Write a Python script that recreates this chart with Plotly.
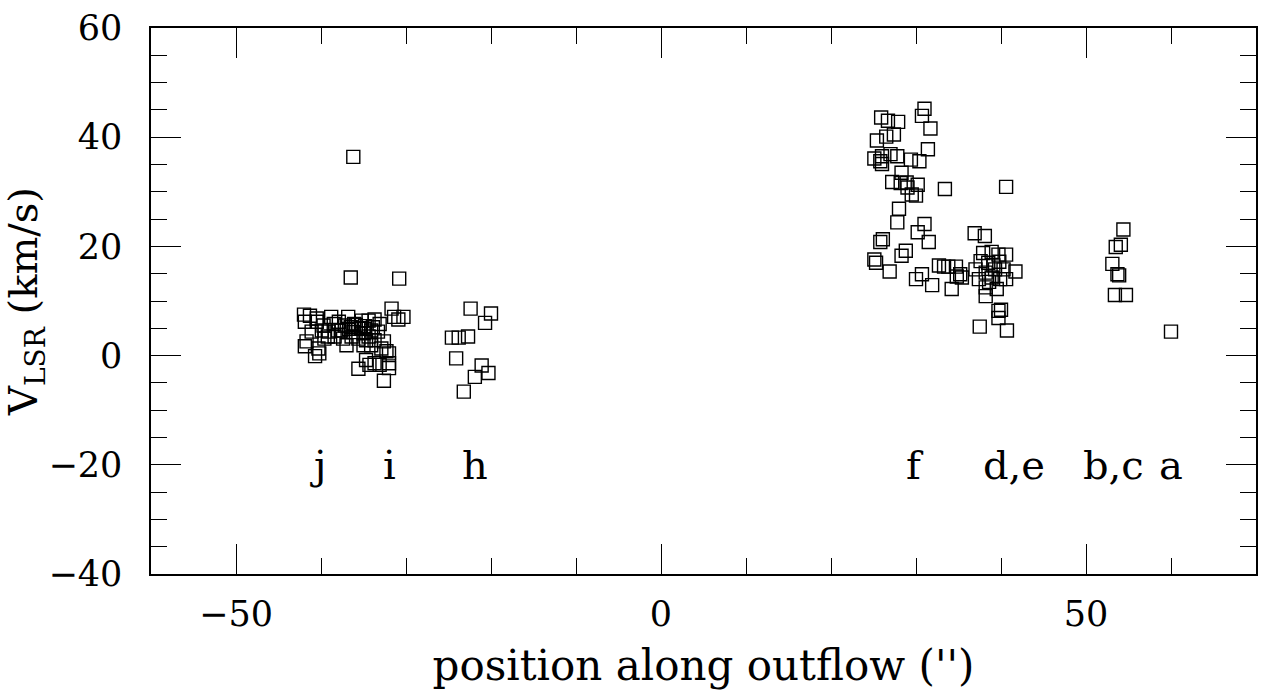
import plotly.graph_objects as go

# Cluster j / i
x_ji = [-36.2, -36.5, -30.8, -31.7, -42.0, -41.3, -40.5, -41.9, -38.8, -36.8, -38.5, -39.7, -37.9,
        -36.1, -35.2, -34.4, -33.7, -33.1, -31.4, -30.3, -30.9, -41.1, -39.9, -39.1, -37.6, -36.7,
        -35.6, -34.9, -34.1, -33.3, -39.6, -38.4, -37.4, -36.4, -35.6, -34.7, -33.7, -32.6, -41.7,
        -41.9, -40.3, -40.2, -40.7, -37.0, -35.0, -34.1, -32.9, -32.3, -32.0, -34.7, -33.7, -34.3,
        -33.1, -32.0, -32.0, -35.6, -32.6, -36.5, -35.9, -35.3, -34.8, -36.2, -35.0, -33.9, -37.2,
        -38.0, -34.4, -40.5, -39.2]
y_ji = [36.4, 14.3, 14.1, 8.6, 7.5, 7.3, 6.8, 6.2, 7.1, 7.1, 5.8, 5.5, 6.2,
        5.8, 6.4, 6.4, 6.6, 5.8, 7.1, 7.1, 6.6, 4.4, 4.6, 4.4, 4.6, 4.9,
        4.9, 4.9, 4.6, 4.4, 3.1, 3.5, 3.1, 3.5, 3.1, 2.8, 2.8, 2.6, 2.6,
        1.7, 1.3, 0.4, -0.1, 1.9, 1.9, 1.9, 1.3, 0.8, 0.4, -0.8, -1.4, -1.7,
        -1.7, -1.4, -2.3, -2.4, -4.6, 5.2, 5.6, 5.0, 5.4, 4.3, 4.1, 5.2, 5.5,
        4.6, 3.5, 6.2, 3.5]

# Cluster h
x_h = [-22.4, -20.0, -20.7, -24.6, -23.8, -22.7, -24.1, -21.1, -20.3, -21.9, -23.2]
y_h = [8.6, 7.7, 6.0, 3.3, 3.3, 3.5, -0.5, -1.8, -3.2, -3.9, -6.6]

# Cluster f
x_f = [31.0, 30.7, 25.9, 26.7, 27.9, 31.7, 27.4, 26.5, 25.4, 31.4, 27.0, 26.0, 25.1, 25.8, 27.8,
       29.4, 30.4, 26.0, 28.3, 27.2, 28.2, 28.9, 30.2, 29.0, 29.5, 30.0, 33.4, 28.0, 27.8, 31.0,
       30.2, 31.5, 26.1, 25.8, 28.8, 28.3, 25.1, 25.3, 26.9, 32.7, 33.3, 30.0, 30.7, 31.9, 34.2,
       33.8, 34.8]
y_f = [45.2, 43.9, 43.6, 43.0, 42.8, 41.6, 40.5, 40.1, 39.4, 37.8, 36.9, 36.5, 36.1, 35.6, 36.5,
       35.9, 35.6, 35.1, 33.5, 31.8, 31.6, 31.7, 31.3, 30.8, 29.5, 29.3, 30.5, 26.9, 24.4, 24.1,
       22.6, 20.8, 21.3, 20.8, 19.2, 18.3, 17.6, 17.0, 15.4, 16.5, 16.3, 14.0, 14.9, 12.9, 12.2,
       16.3, 14.5]

# Cluster d,e
x_de = [36.9, 38.1, 34.7, 35.2, 35.4, 37.0, 37.4, 37.9, 38.9, 39.7, 40.6, 37.6, 38.5, 39.3, 40.3,
        41.7, 38.2, 38.9, 39.9, 40.6, 38.2, 39.5, 38.2, 39.7, 40.0, 39.7, 37.5, 40.7, 40.6, 39.1,
        38.6, 39.8]
y_de = [22.4, 21.9, 16.3, 14.9, 14.3, 15.8, 14.0, 18.8, 19.0, 18.5, 18.5, 17.3, 17.0, 15.8, 15.8,
        15.4, 15.2, 14.3, 14.0, 14.0, 12.5, 12.2, 10.9, 8.2, 8.4, 6.9, 5.3, 4.6, 30.9, 16.5,
        13.5, 17.2]

# Cluster b,c and a
x_bc = [54.4, 54.1, 53.5, 53.1, 53.7, 53.9, 53.4, 54.7, 60.0]
y_bc = [23.1, 20.3, 19.9, 16.8, 14.9, 14.7, 11.1, 11.1, 4.4]

x_all = x_ji + x_h + x_f + x_de + x_bc
y_all = y_ji + y_h + y_f + y_de + y_bc

label_text = ["j", "i", "h", "f", "d,e", "b,c", "a"]
label_x = [-40.3, -32.0, -21.9, 29.9, 41.5, 53.2, 60.0]
label_y = [-20, -20, -20, -20, -20, -20, -20]

FONT = "DejaVu Serif"

fig = go.Figure()
fig.add_trace(go.Scatter(
    x=x_all, y=y_all, mode="markers",
    marker=dict(symbol="square-open", size=13, color="black", line=dict(width=1.4, color="black")),
    showlegend=False, hoverinfo="skip"))

for t, xx, yy in zip(label_text, label_x, label_y):
    fig.add_annotation(x=xx, y=yy, text=t, showarrow=False, xref="x", yref="y",
                       font=dict(family=FONT, size=40, color="black"),
                       xanchor="center", yanchor="middle")

axis_common = dict(showgrid=False, zeroline=False, showline=True, linecolor="black", linewidth=1.5,
                   mirror="allticks", ticks="inside", tickcolor="black", tickwidth=1.2,
                   tickfont=dict(family=FONT, size=35, color="black"))

fig.update_xaxes(range=[-60, 70], tick0=0, dtick=50, ticklen=30, ticklabelstandoff=8,
                 minor=dict(dtick=10, ticklen=16, ticks="inside", tickcolor="black", tickwidth=1.2),
                 title=dict(text="position along outflow ('')", font=dict(family=FONT, size=42, color="black"),
                            standoff=18),
                 **axis_common)
fig.update_yaxes(range=[-40, 60], tick0=0, dtick=20, ticklen=30, ticklabelstandoff=20,
                 minor=dict(dtick=5, ticklen=16, ticks="inside", tickcolor="black", tickwidth=1.2),
                 title=dict(text="V<sub>LSR</sub> (km/s)", font=dict(family=FONT, size=40, color="black"),
                            standoff=12),
                 **axis_common)

fig.update_layout(width=1266, height=696, plot_bgcolor="white", paper_bgcolor="white",
                  margin=dict(l=149, r=8, t=20, b=122))

fig.write_html("out.html")
